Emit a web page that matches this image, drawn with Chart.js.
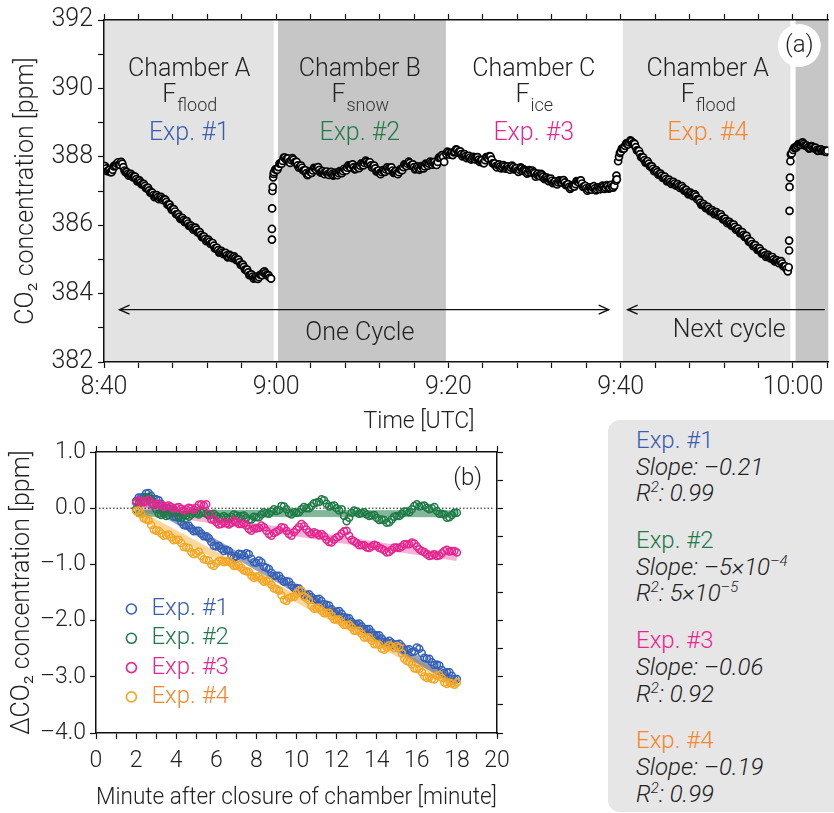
<!DOCTYPE html>
<html>
<head>
<meta charset="utf-8">
<script src="https://cdn.jsdelivr.net/npm/chart.js@4.4.1/dist/chart.umd.min.js"></script>
<style>
  html, body { margin: 0; padding: 0; background: #fff; overflow: hidden; }
  #wrap { position: relative; width: 834px; height: 813px; overflow: hidden; font-family: Roboto, "Liberation Sans", sans-serif; font-weight: 300; }
  #top { position: absolute; left: 0; top: 0; }
  #bot { position: absolute; left: 0; top: 400px; }
  #box { position: absolute; left: 608px; top: 420px; width: 260px; height: 392px; background: #e6e6e6; border-radius: 12px; box-sizing: border-box; padding: 7px 0 0 28px; color: #222; font-size: 24px; }
  #box .grp { margin-bottom: 20px; }
  #box .ln { line-height: 26.7px; height: 26.7px; white-space: nowrap; }
  #box .it { font-style: italic; }
  #box sup { font-size: 15px; vertical-align: 0; position: relative; top: -9px; }
</style>
</head>
<body>
<div id="wrap">
  <canvas id="top" width="834" height="440"></canvas>
  <canvas id="bot" width="560" height="413"></canvas>
  <div id="box"></div>
</div>
<script>
// ---------- panel (a): CO2 time series, minutes after 8:40 ----------
const timeTickMinutes = [0, 20, 40, 60, 80];
const timeTickLabels = ['8:40', '9:00', '9:20', '9:40', '10:00'];
const topYTicks = [382, 384, 386, 388, 390, 392];

// readings every 0.25 min within each chamber period (the "b" arrays are the
// readings taken in between, 0.125 min later)
const segA1 = [
  387.70, 387.66, 387.60, 387.55, 387.62, 387.75, 387.80, 387.78,
  387.85, 387.70, 387.55, 387.50, 387.48, 387.45, 387.42, 387.35,
  387.30, 387.25, 387.20, 387.15, 387.08, 387.02, 386.95, 386.88,
  386.85, 386.82, 386.80, 386.78, 386.76, 386.68, 386.60, 386.52,
  386.47, 386.40, 386.32, 386.25, 386.20, 386.15, 386.12, 386.05,
  385.98, 385.93, 385.90, 385.87, 385.80, 385.72, 385.66, 385.60,
  385.55, 385.52, 385.48, 385.40, 385.32, 385.27, 385.22, 385.20,
  385.18, 385.12, 385.08, 385.10, 385.07, 385.04, 385.00, 384.92,
  384.85, 384.78, 384.70, 384.62, 384.55, 384.50, 384.47, 384.46,
  384.48, 384.55, 384.62, 384.60, 384.55, 384.47
];
const segA1b = [
  387.73, 387.58, 387.62, 387.55, 387.72, 387.74, 387.84, 387.76, 387.80, 387.60,
  387.56, 387.45, 387.50, 387.40, 387.42, 387.28, 387.31, 387.19, 387.21, 387.08,
  387.09, 386.95, 386.95, 386.82, 386.88, 386.76, 386.83, 386.73, 386.75, 386.60,
  386.60, 386.45, 386.47, 386.32, 386.32, 386.18, 386.21, 386.09, 386.12, 385.98,
  385.99, 385.87, 385.93, 385.79, 385.80, 385.65, 385.67, 385.53, 385.58, 385.45,
  385.48, 385.32, 385.34, 385.20, 385.25, 385.15, 385.19, 385.06, 385.13, 385.04,
  385.09, 384.98, 384.99, 384.84, 384.85, 384.70, 384.70, 384.54, 384.56, 384.44,
  384.50, 384.43, 384.55, 384.54, 384.65, 384.54, 384.53
];
const jump1T = [19.4, 19.5, 19.5, 19.52, 19.56, 19.6, 19.65, 19.7];
const jump1V = [384.44, 385.58, 385.89, 386.49, 387.00, 387.12, 387.40, 387.50];
const segB2 = [
  387.55, 387.62, 387.70, 387.80, 387.88, 387.98, 387.95, 387.85,
  387.90, 387.92, 387.85, 387.75, 387.70, 387.68, 387.60, 387.52,
  387.49, 387.55, 387.60, 387.66, 387.68, 387.62, 387.55, 387.52,
  387.55, 387.50, 387.53, 387.50, 387.48, 387.50, 387.52, 387.55,
  387.58, 387.62, 387.68, 387.72, 387.76, 387.70, 387.65, 387.70,
  387.74, 387.78, 387.82, 387.86, 387.84, 387.75, 387.72, 387.66,
  387.58, 387.52, 387.55, 387.58, 387.63, 387.65, 387.68, 387.60,
  387.55, 387.52, 387.55, 387.62, 387.70, 387.76, 387.80, 387.82,
  387.76, 387.70, 387.66, 387.68, 387.66, 387.70, 387.72, 387.78,
  387.80, 387.82, 387.82, 387.78, 387.85, 388.00, 388.05, 387.85
];
const segB2b = [
  387.63, 387.62, 387.80, 387.80, 387.98, 387.92, 387.95, 387.82, 387.96, 387.84,
  387.85, 387.68, 387.74, 387.60, 387.61, 387.46, 387.57, 387.53, 387.68, 387.62,
  387.70, 387.54, 387.58, 387.49, 387.57, 387.47, 387.56, 387.45, 387.54, 387.46,
  387.58, 387.52, 387.65, 387.60, 387.75, 387.69, 387.78, 387.63, 387.72, 387.67,
  387.81, 387.75, 387.89, 387.80, 387.84, 387.69, 387.74, 387.57, 387.60, 387.49,
  387.61, 387.56, 387.69, 387.61, 387.69, 387.53, 387.58, 387.49, 387.63, 387.61,
  387.78, 387.73, 387.86, 387.74, 387.78, 387.63, 387.72, 387.62, 387.73, 387.66,
  387.80, 387.74, 387.86, 387.77, 387.85, 387.76, 387.97, 387.98, 388.00
];
const segC3 = [
  388.08,
  388.12, 388.10, 388.05, 388.15, 388.20, 388.15, 388.08, 388.05,
  388.02, 388.00, 387.98, 387.95, 387.96, 387.97, 387.92, 387.88,
  387.82, 387.90, 387.98, 388.02, 387.92, 387.80, 387.73, 387.75,
  387.72, 387.70, 387.72, 387.68, 387.66, 387.68, 387.70, 387.65,
  387.60, 387.62, 387.66, 387.63, 387.58, 387.55, 387.58, 387.60,
  387.52, 387.48, 387.45, 387.50, 387.42, 387.38, 387.35, 387.34,
  387.30, 387.25, 387.22, 387.25, 387.28, 387.30, 387.25, 387.18,
  387.12, 387.10, 387.15, 387.20, 387.28, 387.30, 387.22, 387.12,
  387.08, 387.05, 387.08, 387.10, 387.08, 387.05, 387.08, 387.10,
  387.12, 387.10, 387.14, 387.10, 387.12, 387.15
];
const segC3b = [
  388.15, 388.06, 388.12, 388.13, 388.22, 388.12, 388.16, 388.01, 388.08, 387.96,
  388.03, 387.92, 388.00, 387.92, 387.99, 387.85, 387.90, 387.81, 387.99, 387.95,
  388.01, 387.81, 387.81, 387.69, 387.78, 387.66, 387.76, 387.65, 387.72, 387.62,
  387.74, 387.63, 387.67, 387.56, 387.69, 387.59, 387.61, 387.51, 387.61, 387.54,
  387.55, 387.42, 387.51, 387.43, 387.47, 387.35, 387.40, 387.29, 387.36, 387.23,
  387.28, 387.19, 387.31, 387.25, 387.32, 387.17, 387.20, 387.06, 387.17, 387.13,
  387.29, 387.25, 387.31, 387.12, 387.15, 387.01, 387.11, 387.04, 387.14, 387.02,
  387.11, 387.05, 387.16, 387.06, 387.17, 387.07, 387.18, 387.10
];
const jump3T = [59.45, 59.5, 59.55, 59.7, 59.8, 59.9];
const jump3V = [387.30, 387.45, 387.34, 387.87, 388.00, 388.11];
const segA4 = [
  388.15, 388.25, 388.32, 388.38, 388.42, 388.45, 388.40, 388.28,
  388.18, 388.08, 387.98, 387.90, 387.85, 387.80, 387.72, 387.65,
  387.60, 387.55, 387.50, 387.45, 387.40, 387.35, 387.30, 387.27,
  387.24, 387.22, 387.18, 387.14, 387.12, 387.08, 387.02, 386.96,
  386.92, 386.90, 386.88, 386.84, 386.75, 386.66, 386.60, 386.56,
  386.52, 386.48, 386.42, 386.38, 386.35, 386.32, 386.30, 386.25,
  386.18, 386.12, 386.08, 386.04, 386.00, 385.95, 385.88, 385.82,
  385.78, 385.72, 385.68, 385.60, 385.52, 385.45, 385.40, 385.34,
  385.30, 385.25, 385.18, 385.12, 385.10, 385.08, 385.06, 385.00,
  384.95, 384.92, 384.94, 384.88, 384.80, 384.72
];
const segA4b = [
  388.24, 388.24, 388.39, 388.36, 388.48, 388.38, 388.38, 388.19, 388.17, 387.99,
  387.98, 387.83, 387.87, 387.72, 387.72, 387.58, 387.61, 387.48, 387.51, 387.38,
  387.42, 387.28, 387.33, 387.21, 387.27, 387.16, 387.20, 387.09, 387.14, 387.01,
  387.03, 386.90, 386.95, 386.85, 386.90, 386.76, 386.74, 386.59, 386.62, 386.50,
  386.54, 386.41, 386.44, 386.32, 386.38, 386.27, 386.32, 386.17, 386.19, 386.06,
  386.10, 385.98, 386.02, 385.87, 385.90, 385.76, 385.80, 385.66, 385.69, 385.52,
  385.53, 385.39, 385.42, 385.28, 385.32, 385.17, 385.20, 385.07, 385.13, 385.03,
  385.07, 384.94, 384.98, 384.89, 384.95, 384.80, 384.80
];
const jump4T = [79.4, 79.5, 79.55, 79.55, 79.6, 79.6, 79.65, 79.7, 79.75, 79.85];
const jump4V = [384.65, 384.77, 385.26, 385.55, 386.42, 387.12, 387.39, 387.87, 388.07, 388.10];
const segB5 = [
  388.20, 388.28, 388.32, 388.36, 388.40, 388.38, 388.32, 388.28,
  388.26, 388.30, 388.25, 388.20, 388.18, 388.22, 388.18, 388.15, 388.18
];
const segB5b = [
  388.26, 388.27, 388.37, 388.35, 388.42, 388.33, 388.33, 388.24,
  388.31, 388.25, 388.27, 388.17, 388.22, 388.17, 388.19, 388.14
];

// chamber periods (minutes after 8:40)
const shadeStart = [0, 20.2, 60.25, 80.3];
const shadeEnd = [19.7, 39.7, 79.7, 84.1];
const shadeColors = ['#e3e3e3', '#c6c6c6', '#e3e3e3', '#c6c6c6'];
const chamberNames = ['Chamber A', 'Chamber B', 'Chamber C', 'Chamber A'];
const fluxNames = ['flood', 'snow', 'ice', 'flood'];
const chamberMid = [9.9, 29.7, 49.9, 70.1];

// ---------- panel (b): delta CO2 after closure ----------
const expLabels = ['Exp. #1', 'Exp. #2', 'Exp. #3', 'Exp. #4'];
const minuteTickLabels = ['0', '2', '4', '6', '8', '10', '12', '14', '16', '18', '20'];
const deltaTickLabels = ['–4.0', '–3.0', '–2.0', '–1.0', '0.0', '1.0'];
// readings every 0.25 min from minute 2 to 18, "b" arrays 0.125 min later
const exp1 = [
  0.13, 0.19, 0.26, 0.22, 0.16, 0.08, 0.00, -0.08, -0.16, -0.24, -0.31, -0.36,
  -0.40, -0.45, -0.50, -0.60, -0.68, -0.72, -0.74, -0.84, -0.86, -0.82, -0.80, -0.90,
  -0.97, -0.96, -1.06, -1.15, -1.20, -1.26, -1.30, -1.37, -1.42, -1.50, -1.54, -1.58,
  -1.62, -1.65, -1.72, -1.80, -1.84, -1.88, -1.95, -2.02, -2.06, -2.10, -2.15, -2.21,
  -2.26, -2.32, -2.38, -2.40, -2.42, -2.46, -2.52, -2.56, -2.48, -2.58, -2.68, -2.74,
  -2.78, -2.88, -2.92, -2.98, -3.04
];
const exp1b = [
  0.19, 0.20, 0.27, 0.17, 0.14, 0.01, 0.00, -0.15, -0.17, -0.30,
  -0.31, -0.41, -0.40, -0.50, -0.53, -0.67, -0.67, -0.76, -0.76, -0.88,
  -0.81, -0.84, -0.82, -0.96, -0.93, -1.04, -1.08, -1.20, -1.20, -1.31,
  -1.31, -1.42, -1.43, -1.55, -1.53, -1.63, -1.61, -1.71, -1.73, -1.85,
  -1.83, -1.94, -1.96, -2.07, -2.05, -2.15, -2.15, -2.26, -2.26, -2.38,
  -2.36, -2.44, -2.41, -2.52, -2.51, -2.55, -2.50, -2.66, -2.68, -2.79,
  -2.80, -2.93, -2.92, -3.04
];
const exp2 = [
  -0.02, 0.12, 0.19, 0.16, -0.02, -0.12, -0.14, -0.04, -0.08, -0.17, -0.13, -0.11,
  -0.09, -0.08, -0.10, -0.11, -0.14, -0.16, -0.17, -0.15, -0.13, -0.14, -0.17, -0.20,
  -0.16, -0.11, -0.09, -0.06, -0.05, 0.04, -0.02, -0.11, -0.08, -0.02, 0.00, 0.04,
  0.10, 0.16, 0.08, 0.04, 0.00, -0.02, -0.23, -0.08, -0.06, -0.09, -0.11, -0.13,
  -0.17, -0.20, -0.26, -0.20, -0.14, -0.10, -0.06, -0.02, 0.07, 0.04, 0.01, 0.00,
  -0.05, -0.10, -0.17, -0.12, -0.08
];
const exp2b = [
  0.08, 0.12, 0.20, 0.06, -0.10, -0.10, -0.12, -0.03, -0.15, -0.12,
  -0.15, -0.07, -0.11, -0.06, -0.13, -0.10, -0.18, -0.14, -0.19, -0.11,
  -0.16, -0.13, -0.21, -0.15, -0.16, -0.07, -0.10, -0.02, -0.03, 0.03,
  -0.09, -0.07, -0.07, 0.02, 0.00, 0.09, 0.11, 0.14, 0.03, 0.05,
  -0.04, -0.14, -0.17, -0.04, -0.10, -0.07, -0.14, -0.12, -0.21, -0.21,
  -0.25, -0.15, -0.14, -0.06, -0.07, 0.04, 0.03, 0.05, -0.02, 0.02,
  -0.10, -0.11, -0.16, -0.08
];
const exp3 = [
  0.10, 0.12, 0.13, 0.10, 0.07, 0.05, 0.04, 0.02, 0.01, -0.01, -0.02, 0.00,
  0.01, 0.07, 0.07, -0.20, -0.25, -0.28, -0.27, -0.26, -0.24, -0.28, -0.31, -0.40,
  -0.36, -0.31, -0.40, -0.49, -0.42, -0.34, -0.40, -0.49, -0.38, -0.28, -0.38, -0.46,
  -0.45, -0.46, -0.56, -0.61, -0.52, -0.45, -0.40, -0.56, -0.62, -0.66, -0.70, -0.68,
  -0.67, -0.72, -0.79, -0.74, -0.70, -0.68, -0.64, -0.61, -0.68, -0.76, -0.82, -0.84,
  -0.85, -0.80, -0.74, -0.76, -0.79
];
const exp3b = [
  0.14, 0.10, 0.15, 0.06, 0.08, 0.02, 0.05, -0.01, 0.02, -0.04,
  0.01, -0.03, 0.06, 0.05, -0.10, -0.20, -0.29, -0.25, -0.29, -0.22,
  -0.28, -0.27, -0.37, -0.36, -0.35, -0.34, -0.46, -0.44, -0.39, -0.35,
  -0.46, -0.43, -0.33, -0.32, -0.43, -0.43, -0.48, -0.50, -0.60, -0.56,
  -0.50, -0.41, -0.49, -0.59, -0.66, -0.66, -0.71, -0.65, -0.71, -0.75,
  -0.78, -0.70, -0.71, -0.64, -0.64, -0.63, -0.73, -0.78, -0.85, -0.82,
  -0.84, -0.76, -0.77, -0.76
];
const exp4 = [
  -0.05, -0.10, -0.20, -0.30, -0.40, -0.45, -0.48, -0.52, -0.56, -0.62, -0.70, -0.78,
  -0.80, -0.85, -0.92, -1.00, -0.98, -0.93, -0.95, -0.98, -1.02, -1.06, -1.12, -1.20,
  -1.22, -1.26, -1.29, -1.36, -1.44, -1.55, -1.65, -1.58, -1.52, -1.47, -1.60, -1.74,
  -1.78, -1.82, -1.86, -1.92, -1.98, -2.03, -2.08, -2.12, -2.18, -2.24, -2.30, -2.36,
  -2.42, -2.50, -2.48, -2.46, -2.45, -2.58, -2.72, -2.78, -2.86, -2.92, -3.02, -3.04,
  -2.98, -3.02, -3.13, -3.12, -3.10
];
const exp4b = [
  -0.04, -0.18, -0.22, -0.38, -0.40, -0.49, -0.47, -0.57, -0.56, -0.69,
  -0.71, -0.82, -0.77, -0.91, -0.93, -1.03, -0.94, -0.96, -0.94, -1.03,
  -1.01, -1.11, -1.13, -1.24, -1.21, -1.31, -1.30, -1.43, -1.47, -1.63,
  -1.60, -1.58, -1.47, -1.57, -1.64, -1.79, -1.77, -1.87, -1.86, -1.98,
  -1.98, -2.08, -2.07, -2.18, -2.18, -2.30, -2.30, -2.42, -2.43, -2.52,
  -2.44, -2.49, -2.48, -2.68, -2.73, -2.85, -2.86, -2.99, -3.01, -3.05,
  -2.97, -3.10, -3.10, -3.14
];
// linear fits, at minute 2 and minute 18
const fitX = [2, 18];
const fit1 = [0.20, -3.10];
const fit2 = [-0.09, -0.10];
const fit3 = [0.00, -0.88];
const fit4 = [-0.08, -3.14];
const boxSlopes = ['–0.21', '–5×10<sup>–4</sup>', '–0.06', '–0.19'];
const boxR2 = ['0.99', '5×10<sup>–5</sup>', '0.92', '0.99'];

const markerColors = ['#3560b8', '#1e7b46', '#e6258e', '#f5a623'];
const textColors = ['#3a5db0', '#227a47', '#ea2590', '#f4872c'];
const fitColors = ['rgba(85,105,150,0.6)', 'rgba(30,123,70,0.55)', 'rgba(230,37,142,0.35)', 'rgba(245,166,35,0.45)'];

const FONT = 'Roboto, "Liberation Sans", sans-serif';
Chart.defaults.font.family = FONT;
Chart.defaults.font.weight = '300';
Chart.defaults.color = '#222';

function seg(start, vals) { return vals.map((v, i) => ({ x: start + i * 0.25, y: v })); }
function pairs(ts, vs) { return ts.map((t, i) => ({ x: t, y: vs[i] })); }
function stepTicks(lo, hi, step) {
  const out = [];
  for (let v = lo; v <= hi + 1e-9; v += step) out.push({ value: Math.round(v * 100) / 100 });
  return out;
}

const topPoints = [].concat(
  seg(0, segA1), seg(0.125, segA1b), pairs(jump1T, jump1V),
  seg(19.75, segB2), seg(19.875, segB2b),
  seg(39.75, segC3), seg(39.875, segC3b), pairs(jump3T, jump3V),
  seg(60, segA4), seg(60.125, segA4b), pairs(jump4T, jump4V),
  seg(80, segB5), seg(80.125, segB5b)
).sort((p, q) => p.x - q.x);

function arrowHead(ctx, x, y, dir) {
  ctx.beginPath();
  ctx.moveTo(x - dir * 10, y - 4.5);
  ctx.lineTo(x, y);
  ctx.lineTo(x - dir * 10, y + 4.5);
  ctx.stroke();
}

const topDecor = {
  id: 'topDecor',
  beforeDraw(chart) {
    const { ctx, chartArea: a, scales: { x } } = chart;
    ctx.save();
    shadeStart.forEach((s, i) => {
      const x0 = x.getPixelForValue(s);
      const x1 = Math.min(x.getPixelForValue(shadeEnd[i]), a.right);
      ctx.fillStyle = shadeColors[i];
      ctx.fillRect(x0, a.top, x1 - x0, a.bottom - a.top);
    });
    ctx.restore();
  },
  afterDatasetsDraw(chart) {
    const { ctx, chartArea: a, scales: { x, y } } = chart;
    ctx.save();
    ctx.textBaseline = 'alphabetic';
    chamberMid.forEach((m, i) => {
      const cx = x.getPixelForValue(m);
      ctx.fillStyle = '#222';
      ctx.textAlign = 'center';
      ctx.font = '300 25px ' + FONT;
      ctx.fillText(chamberNames[i], cx, a.top + 56);
      // F with subscript
      const wF = ctx.measureText('F').width;
      ctx.font = '300 18px ' + FONT;
      const wS = ctx.measureText(fluxNames[i]).width;
      const x0 = cx - (wF + wS) / 2;
      ctx.textAlign = 'left';
      ctx.font = '300 25px ' + FONT;
      ctx.fillText('F', x0, a.top + 82);
      ctx.font = '300 18px ' + FONT;
      ctx.fillStyle = '#333';
      ctx.fillText(fluxNames[i], x0 + wF + 1, a.top + 91);
      ctx.textAlign = 'center';
      ctx.font = '300 25px ' + FONT;
      ctx.fillStyle = textColors[i];
      ctx.fillText(expLabels[i], cx, a.top + 120);
    });

    // cycle arrows
    ctx.strokeStyle = '#111';
    ctx.lineWidth = 1.4;
    const ay = y.getPixelForValue(383.53);
    const c0 = x.getPixelForValue(1.8), c1 = x.getPixelForValue(58.6);
    ctx.beginPath(); ctx.moveTo(c0, ay); ctx.lineTo(c1, ay); ctx.stroke();
    arrowHead(ctx, c0, ay, -1);
    arrowHead(ctx, c1, ay, 1);
    const n0 = x.getPixelForValue(60.8), n1 = x.getPixelForValue(83.7);
    ctx.beginPath(); ctx.moveTo(n0, ay); ctx.lineTo(n1, ay); ctx.stroke();
    arrowHead(ctx, n0, ay, -1);
    ctx.fillStyle = '#222';
    ctx.font = '300 25px ' + FONT;
    ctx.textAlign = 'center';
    ctx.fillText('One Cycle', x.getPixelForValue(29.7), a.top + 320);
    ctx.fillText('Next cycle', x.getPixelForValue(72.6), a.top + 317);

    // panel tag
    ctx.beginPath();
    ctx.fillStyle = '#fff';
    ctx.arc(a.right - 29, a.top + 25.5, 21.5, 0, Math.PI * 2);
    ctx.fill();
    ctx.fillStyle = '#222';
    ctx.font = '300 24px ' + FONT;
    ctx.textBaseline = 'middle';
    ctx.fillText('(a)', a.right - 29, a.top + 25.5);
    ctx.restore();
  },
  afterDraw(chart) {
    const { ctx, chartArea: a } = chart;
    ctx.save();
    ctx.fillStyle = '#222';
    ctx.font = '300 23px ' + FONT;
    ctx.textAlign = 'center';
    ctx.textBaseline = 'alphabetic';
    ctx.fillText('Time [UTC]', a.left + 315, 428);
    ctx.restore();
  }
};

const axisGrid = { drawOnChartArea: false, drawTicks: true, tickLength: 6, tickColor: '#111', tickWidth: 1.2 };
const axisBorder = { display: true, color: '#111', width: 1.5 };

new Chart(document.getElementById('top'), {
  type: 'scatter',
  data: {
    datasets: [{
      data: topPoints,
      pointRadius: 3.5,
      pointBorderWidth: 1.7,
      pointBorderColor: '#000',
      pointBackgroundColor: '#fff'
    }]
  },
  options: {
    responsive: false,
    animation: false,
    events: [],
    layout: { padding: { top: 12, left: 0, right: 0, bottom: 0 } },
    plugins: { legend: { display: false }, tooltip: { enabled: false } },
    scales: {
      x: {
        type: 'linear', position: 'bottom', min: 0, max: 84.1,
        afterBuildTicks: s => { s.ticks = stepTicks(0, 84, 4); },
        afterFit: s => { s.height = 78; },
        ticks: {
          padding: 5, autoSkip: false, maxRotation: 0, color: '#222', font: { size: 25 },
          callback: v => { const i = timeTickMinutes.indexOf(v); return i >= 0 ? timeTickLabels[i] : ''; }
        },
        grid: axisGrid, border: axisBorder
      },
      xTop: {
        type: 'linear', position: 'top', min: 0, max: 84.1,
        afterBuildTicks: s => { s.ticks = stepTicks(0, 84, 4); },
        afterFit: s => { s.height = 6; },
        ticks: { display: false },
        grid: axisGrid, border: axisBorder
      },
      y: {
        type: 'linear', position: 'left', min: 382, max: 392,
        afterBuildTicks: s => { s.ticks = stepTicks(382, 392, 1); },
        afterFit: s => { s.width = 104; },
        ticks: {
          padding: 5, color: '#222', font: { size: 25 },
          callback: v => { const i = topYTicks.indexOf(v); return i >= 0 ? String(topYTicks[i]) : ''; }
        },
        title: { display: true, text: 'CO₂ concentration [ppm]', color: '#222', font: { size: 25 }, padding: { top: 12, bottom: 0 } },
        grid: axisGrid, border: axisBorder
      }
    }
  },
  plugins: [topDecor]
});

// ---------- panel (b) ----------
const minuteGrid = stepTicks(2, 18, 0.25).map(t => t.value);
const expSeries = [exp1, exp2, exp3, exp4];
const expSeriesB = [exp1b, exp2b, exp3b, exp4b];
const fitSeries = [fit1, fit2, fit3, fit4];

const botDatasets = [];
expSeries.forEach((vals, i) => {
  const pts = vals.map((v, k) => ({ x: minuteGrid[k], y: v }))
    .concat(expSeriesB[i].map((v, k) => ({ x: minuteGrid[k] + 0.125, y: v })))
    .sort((p, q) => p.x - q.x);
  botDatasets.push({
    type: 'scatter', label: expLabels[i], order: 4 - i,
    data: pts,
    pointRadius: 3.5, pointBorderWidth: 1.5,
    pointBorderColor: markerColors[i], pointBackgroundColor: 'rgba(0,0,0,0)'
  });
});
fitSeries.forEach((f, i) => {
  botDatasets.push({
    type: 'line', label: 'fit ' + expLabels[i], order: 20,
    data: fitX.map((x, k) => ({ x: x, y: f[k] })),
    borderColor: fitColors[i], borderWidth: 7, pointRadius: 0, borderCapStyle: 'butt'
  });
});
botDatasets.push({
  type: 'line', label: 'zero', order: 19,
  data: [{ x: 0.15, y: 0 }, { x: 19.8, y: 0 }],
  borderColor: '#111', borderWidth: 1, borderDash: [1.5, 2], pointRadius: 0
});

const botDecor = {
  id: 'botDecor',
  afterDatasetsDraw(chart) {
    const { ctx, chartArea: a } = chart;
    ctx.save();
    expLabels.forEach((lab, i) => {
      const yy = a.top + 157 + i * 29.3;
      ctx.beginPath();
      ctx.arc(a.left + 35.4, yy, 5, 0, Math.PI * 2);
      ctx.strokeStyle = markerColors[i];
      ctx.lineWidth = 1.6;
      ctx.stroke();
      ctx.fillStyle = textColors[i];
      ctx.font = '300 24px ' + FONT;
      ctx.textAlign = 'left';
      ctx.textBaseline = 'middle';
      ctx.fillText(lab, a.left + 55.4, yy);
    });
    ctx.fillStyle = '#222';
    ctx.textAlign = 'center';
    ctx.fillText('(b)', a.right - 29.3, a.top + 27);
    ctx.restore();
  }
};

new Chart(document.getElementById('bot'), {
  type: 'scatter',
  data: { datasets: botDatasets },
  options: {
    responsive: false,
    animation: false,
    events: [],
    layout: { padding: { top: 46, left: 0, right: 0, bottom: 0 } },
    plugins: { legend: { display: false }, tooltip: { enabled: false } },
    scales: {
      x: {
        type: 'linear', position: 'bottom', min: 0, max: 20,
        afterBuildTicks: s => { s.ticks = stepTicks(0, 20, 1); },
        afterFit: s => { s.height = 80; },
        ticks: {
          padding: 8, autoSkip: false, maxRotation: 0, color: '#222', font: { size: 23 },
          callback: v => (Number.isInteger(v) && v % 2 === 0) ? minuteTickLabels[v / 2] : ''
        },
        title: { display: true, text: 'Minute after closure of chamber [minute]', color: '#222', font: { size: 23 }, padding: { top: 0, bottom: 1 } },
        grid: axisGrid, border: axisBorder
      },
      xTop: {
        type: 'linear', position: 'top', min: 0, max: 20,
        afterBuildTicks: s => { s.ticks = stepTicks(0, 20, 1); },
        afterFit: s => { s.height = 6; },
        ticks: { display: false },
        grid: axisGrid, border: axisBorder
      },
      y: {
        type: 'linear', position: 'left', min: -4, max: 1,
        afterBuildTicks: s => { s.ticks = stepTicks(-4, 1, 0.5); },
        afterFit: s => { s.width = 96; },
        ticks: {
          padding: 4, color: '#222', font: { size: 23 },
          callback: v => Number.isInteger(v) ? deltaTickLabels[v + 4] : ''
        },
        title: { display: true, text: 'ΔCO₂ concentration [ppm]', color: '#222', font: { size: 25 }, padding: { top: 8, bottom: 0 } },
        grid: axisGrid, border: axisBorder
      },
      yRight: {
        type: 'linear', position: 'right', min: -4, max: 1,
        afterBuildTicks: s => { s.ticks = stepTicks(-4, 1, 0.5); },
        afterFit: s => { s.width = 63; },
        ticks: { display: false },
        grid: axisGrid, border: axisBorder
      }
    }
  },
  plugins: [botDecor]
});

// ---------- fit summary box ----------
document.getElementById('box').innerHTML = expLabels.map((lab, i) =>
  '<div class="grp">' +
  '<div class="ln" style="color:' + textColors[i] + '">' + lab + '</div>' +
  '<div class="ln it">Slope: ' + boxSlopes[i] + '</div>' +
  '<div class="ln it">R<sup>2</sup>: ' + boxR2[i] + '</div>' +
  '</div>'
).join('');
</script>
</body>
</html>
